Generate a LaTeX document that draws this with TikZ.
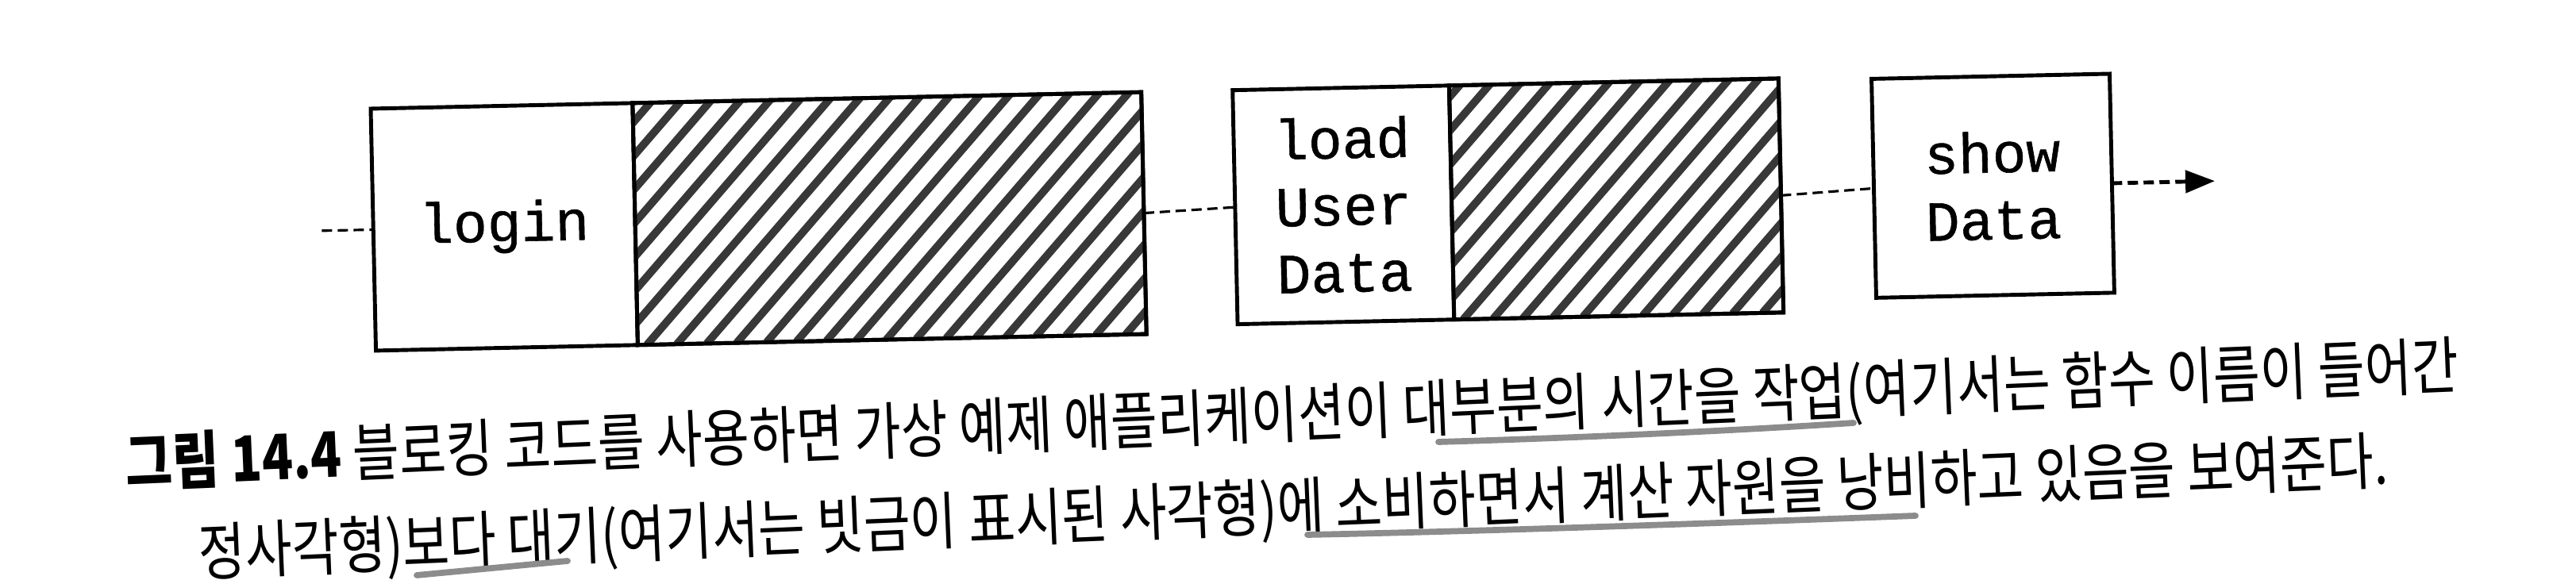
\documentclass[tikz,border=0pt]{standalone}
\usepackage{fontspec}
\newfontfamily\boxfont[FakeBold=0.8]{Liberation Mono}
\newfontfamily\krfont[FakeStretch=0.81]{Noto Sans CJK KR}
\usetikzlibrary{arrows.meta,positioning,calc}

\tikzset{
  block/.style={draw, line width=1.4pt, fill=white, outer sep=0pt, inner sep=0pt,
    minimum height=3.05cm, align=center,
    font=\boxfont\fontsize{20.3pt}{24pt}\selectfont},
  stripe/.style={line width=2.8pt, color=black!78},
  wire/.style={line width=0.9pt, dash pattern=on 1.3mm off 0.7mm},
  caption/.style={inner sep=0pt, font=\krfont\fontsize{22.5pt}{27pt}\selectfont},
  pencil/.style={line width=2.2pt, color=black!45, line cap=round},
}

\begin{document}
\begin{tikzpicture}
  \useasboundingbox (0,0) rectangle (32.45,7.31);

  % Blocks (the page is a little tilted)
  \begin{scope}[shift={(4.67,5.94)}, rotate=1.23, transform shape]
    \node[block, anchor=north west, minimum width=3.30cm] (login) at (0,0) {login};
    \node[block, anchor=west, minimum width=6.41cm] (loginwait) at (login.east) {};
    \node[block, anchor=north west, minimum width=2.73cm, minimum height=2.95cm] (loaddata) at (10.86,0) {load\\User\\Data};
    \node[block, anchor=west, minimum width=4.15cm, minimum height=2.95cm] (loadwait) at (loaddata.east) {};
    \node[block, anchor=north west, minimum width=3.00cm, minimum height=2.76cm] (showdata) at (18.91,-0.03) {show\\Data};

    % Hatching
    \foreach \w in {loginwait, loadwait} {
      \begin{scope}
        \clip (\w.south west) -- (\w.south east) -- (\w.north east) -- (\w.north west) -- cycle;
        \foreach \k in {0,...,27}
          \draw[stripe] ($(\w.south west)+(\k*0.377-2.9,0)$) -- ++(48:4.4);
      \end{scope}
      \draw[line width=1.4pt] (\w.south west) -- (\w.south east) -- (\w.north east) -- (\w.north west) -- cycle;
    }

    % Waiting lines
    \coordinate (start) at ($(login.west)+(-0.65,0)$);
    \coordinate (end) at ($(showdata.east)+(1.30,0)$);
    \draw[wire] (start) -- (login.west);
    \draw[wire] (loginwait.east) -- (loaddata.west);
    \draw[wire] (loadwait.east) -- (showdata.west);
    \draw[wire, line width=1.4pt, -{Triangle[length=3.7mm, width=2.8mm]}] (showdata.east) -- (end);
  \end{scope}

  % Caption
  \node[caption, anchor=west, rotate=2.4] (capone) at (1.58,1.44)
    {{\bfseries 그림 14.4} 블로킹 코드를 사용하면 가상 예제 애플리케이션이 대부분의 시간을 작업(여기서는 함수 이름이 들어간};
  \node[caption, anchor=west, rotate=2.4] (captwo) at (2.50,0.31)
    {정사각형)보다 대기(여기서는 빗금이 표시된 사각형)에 소비하면서 계산 자원을 낭비하고 있음을 보여준다.};

  % Pencil marks
  \draw[pencil] (18.12,1.74) .. controls (19.5,1.78) and (21.5,1.86) .. (23.35,1.98);
  \draw[pencil] (16.47,0.57) .. controls (18.5,0.61) and (21.5,0.71) .. (24.13,0.81);
  \draw[pencil] (5.25,0.06) -- (7.15,0.24);

\end{tikzpicture}
\end{document}
